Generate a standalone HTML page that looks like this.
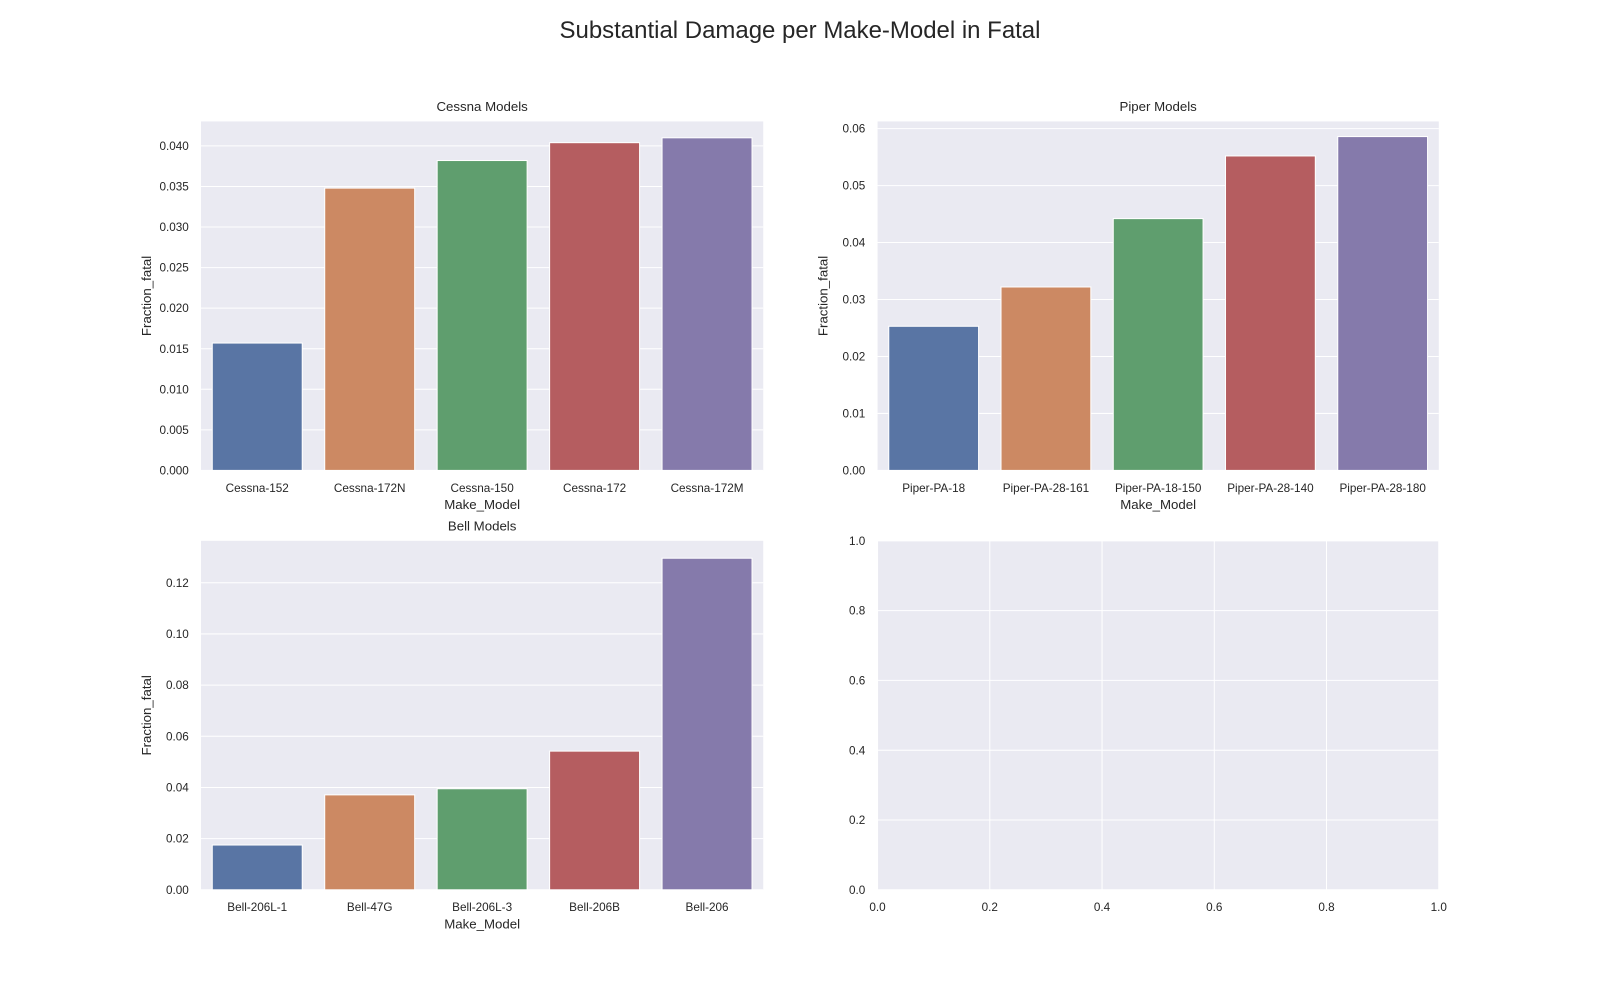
<!DOCTYPE html>
<html><head><meta charset="utf-8"><style>
html,body{margin:0;padding:0;background:#fff;}
svg{display:block;font-family:"Liberation Sans","DejaVu Sans",sans-serif;}
</style></head><body>
<svg id="fig" width="1600" height="1000" viewBox="0 0 1600 1000" xmlns="http://www.w3.org/2000/svg">
<g id="root" transform="scale(1.020408)">
<text x="784" y="37" font-size="23.5" text-anchor="middle" fill="#262626">Substantial Damage per Make-Model in Fatal</text>
</g>
</svg>
<script>
const cessnaCats = ["Cessna-152","Cessna-172N","Cessna-150","Cessna-172","Cessna-172M"];
const cessnaVals = [0.0157,0.0348,0.0382,0.0404,0.0410];
const cessnaTicks = [0,0.005,0.010,0.015,0.020,0.025,0.030,0.035,0.040];
const piperCats = ["Piper-PA-18","Piper-PA-28-161","Piper-PA-18-150","Piper-PA-28-140","Piper-PA-28-180"];
const piperVals = [0.0253,0.0322,0.0442,0.0552,0.0586];
const piperTicks = [0,0.01,0.02,0.03,0.04,0.05,0.06];
const bellCats = ["Bell-206L-1","Bell-47G","Bell-206L-3","Bell-206B","Bell-206"];
const bellVals = [0.0175,0.0371,0.0395,0.0542,0.1296];
const bellTicks = [0,0.02,0.04,0.06,0.08,0.10,0.12];
const emptyTicks = [0,0.2,0.4,0.6,0.8,1.0];
const colors = ["#5975a4","#cc8963","#5f9e6e","#b55d60","#857aab"];
const NS="http://www.w3.org/2000/svg";
const svg=document.getElementById('root');
function mk(tag,attrs,parent,text){const e=document.createElementNS(NS,tag);for(const k in attrs)e.setAttribute(k,attrs[k]);if(text!==undefined)e.textContent=text;(parent||svg).appendChild(e);return e;}
function panel(name,x0,y0,w,h,cats,vals,ticks,ymax,dec,title){
  const g=mk('g',{});
  
  
  const bg=mk('rect',{x:x0,y:y0,width:w,height:h,fill:'#eaeaf2'},g);
  
  
  const ys=v=>y0+h-v/ymax*h;
  ticks.forEach(t=>{
    const y=ys(t);
    mk('line',{x1:x0,x2:x0+w,y1:y,y2:y,stroke:'#fff','stroke-width':1},g);
    const tl=mk('text',{x:x0-12,y:y+4,'font-size':11.5,'text-anchor':'end',fill:'#262626'},g,t.toFixed(dec));
    
    
  });
  const n=cats.length, step=w/n;
  cats.forEach((c,i)=>{
    const cx=x0+step*(i+0.5), bw=step*0.8;
    const v=vals[i];
    const r=mk('rect',{x:cx-bw/2,y:ys(v),width:bw,height:ys(0)-ys(v),fill:colors[i],stroke:'#fff','stroke-width':1},g);
    
    
    const tl=mk('text',{x:cx,y:y0+h+21,'font-size':11.5,'text-anchor':'middle',fill:'#262626'},g,c);
    
    
  });
  const xt=mk('text',{x:x0+w/2,y:y0+h+38,'font-size':13,'text-anchor':'middle',fill:'#262626'},g,'Make_Model');
  
  
  const yx=x0-49, yy=y0+h/2;
  const yt=mk('text',{x:yx,y:yy,'font-size':13,'text-anchor':'middle',fill:'#262626',transform:`rotate(-90 ${yx} ${yy})`},g,'Fraction_fatal');
  
  
  const tt=mk('text',{x:x0+w/2,y:y0-10,'font-size':13,'text-anchor':'middle',fill:'#262626'},g,title);
  
  
}
panel('cessna',197,119,551,342,cessnaCats,cessnaVals,cessnaTicks,0.04302,3,'Cessna Models');
panel('piper',860,119,550,342,piperCats,piperVals,piperTicks,0.06126,2,'Piper Models');
panel('bell',197,530,551,342,bellCats,bellVals,bellTicks,0.1364,2,'Bell Models');
(function(){
  const x0=860,y0=530,w=550,h=342;
  const g=mk('g',{});
  
  
  mk('rect',{x:x0,y:y0,width:w,height:h,fill:'#eaeaf2'},g);
  emptyTicks.forEach(t=>{
    const y=y0+h-t*h, x=x0+t*w;
    mk('line',{x1:x0,x2:x0+w,y1:y,y2:y,stroke:'#fff','stroke-width':1},g);
    mk('line',{x1:x,x2:x,y1:y0,y2:y0+h,stroke:'#fff','stroke-width':1},g);
    const a=mk('text',{x:x0-12,y:y+4,'font-size':11.5,'text-anchor':'end',fill:'#262626'},g,t.toFixed(1));
    
    
    const b=mk('text',{x:x,y:y0+h+21,'font-size':11.5,'text-anchor':'middle',fill:'#262626'},g,t.toFixed(1));
    
    
  });
})();
</script>
</body></html>
